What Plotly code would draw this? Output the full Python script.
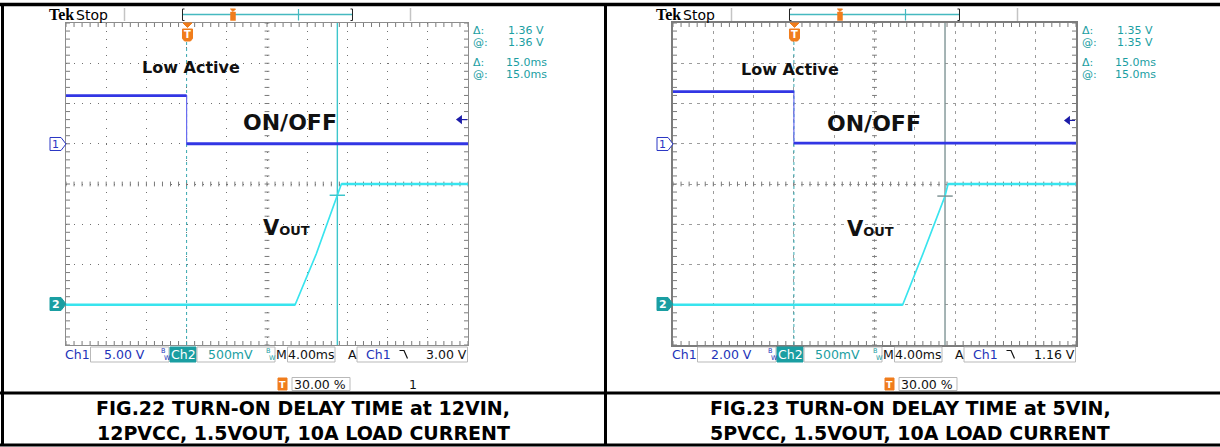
import numpy as np
import plotly.graph_objects as go

W, H = 1220, 447
FONT = "DejaVu Sans"

# ---- timebase shared by both captures ----
TIME_PER_DIV_MS = 4.0
TRIGGER_POS_PCT = 30.0
H_DIVS, V_DIVS = 10, 8
T_START = -TRIGGER_POS_PCT / 100.0 * H_DIVS * TIME_PER_DIV_MS
T_END = T_START + H_DIVS * TIME_PER_DIV_MS

# ---- FIG.22 : 12VIN, 12PVCC ----
fig22_onoff_t_ms = [-12.0, 0.0, 0.0, 28.0]
fig22_onoff_v = [5.97, 5.97, 0.0, 0.0]
fig22_vout_t_ms = [-12.0, 10.8, 12.9, 15.0, 15.4, 28.0]
fig22_vout_v = [0.0, 0.0, 0.63, 1.36, 1.50, 1.50]
fig22_cursor_t_ms = 15.0
fig22_cursor_v = 1.36
fig22_ch1_v_per_div = 5.0
fig22_trig_level_v = 3.00

# ---- FIG.23 : 5VIN, 5PVCC ----
fig23_onoff_t_ms = [-12.0, 0.0, 0.0, 28.0]
fig23_onoff_v = [2.59, 2.59, 0.03, 0.03]
fig23_vout_t_ms = [-12.0, 10.8, 12.8, 15.0, 15.3, 28.0]
fig23_vout_v = [0.0, 0.0, 0.63, 1.35, 1.50, 1.50]
fig23_cursor_t_ms = 15.0
fig23_cursor_v = 1.35
fig23_ch1_v_per_div = 2.0
fig23_trig_level_v = 1.16

CH2_V_PER_DIV = 0.5
CH1_OFFSET_DIV = 1.0
CH2_OFFSET_DIV = -3.0

captions = [
    ("FIG.22 TURN-ON DELAY TIME at 12VIN,", "12PVCC, 1.5VOUT, 10A LOAD CURRENT"),
    ("FIG.23 TURN-ON DELAY TIME at 5VIN,", "5PVCC, 1.5VOUT, 10A LOAD CURRENT"),
]

# ---- colours ----
C_CH1 = "#3236e4"
C_CH1_EDGE = "#6a6cf0"
C_CH1_TXT = "#2233b8"
C_CH2 = "#38e4ee"
C_TEAL = "#1a9ea2"
C_ORANGE = "#f07d1c"


def fx(x):
    return x / W


def fy(y):
    return 1 - y / H


shapes = []
anns = []


def line(x0, y0, x1, y1, color, width=1, dash="solid"):
    shapes.append(dict(type="line", xref="paper", yref="paper",
                       x0=fx(x0), y0=fy(y0), x1=fx(x1), y1=fy(y1),
                       line=dict(color=color, width=width, dash=dash)))


def rect(x0, y0, x1, y1, fill="white", edge="#b9b9b9", width=1):
    shapes.append(dict(type="rect", xref="paper", yref="paper",
                       x0=fx(x0), y0=fy(y0), x1=fx(x1), y1=fy(y1),
                       fillcolor=fill, line=dict(color=edge, width=width)))


def poly(pts, fill, edge=None, width=1, closed=True):
    d = "M" + " L".join(f"{fx(x):.6f},{fy(y):.6f}" for x, y in pts)
    if closed:
        d += " Z"
    shapes.append(dict(type="path", xref="paper", yref="paper", path=d,
                       fillcolor=fill if closed else None,
                       line=dict(color=edge or fill, width=width)))


def text(x, y, s, size=12.5, color="#000", anchor="left", family=FONT, bold=False):
    if bold:
        s = f"<b>{s}</b>"
    anns.append(dict(x=fx(x), y=fy(y), xref="paper", yref="paper", text=s,
                     showarrow=False, xanchor=anchor, yanchor="middle",
                     borderpad=0, borderwidth=0,
                     font=dict(family=family, size=size, color=color)))


def level_segments(t, v):
    """Steady-level pieces of a waveform (consecutive samples at equal value)."""
    xs, ys = [], []
    for k in range(1, len(t)):
        if v[k] == v[k - 1]:
            xs += [t[k - 1], t[k], None]
            ys += [v[k - 1], v[k], None]
    return xs, ys


fig = go.Figure()

panels = [
    dict(dx=0, gx0=66, gx1=468, xa="x", ya="y", y1a="y3", y2a="y4",
         on_t=fig22_onoff_t_ms, on_v=fig22_onoff_v,
         vo_t=fig22_vout_t_ms, vo_v=fig22_vout_v,
         cur_t=fig22_cursor_t_ms, cur_v=fig22_cursor_v,
         ch1_vdiv=fig22_ch1_v_per_div, trig=fig22_trig_level_v,
         cursor_color="#3cc6cc", grid_color="#707070", grid_dash="1px,7.04px",
         border_color="#8c8c8c", border_w=1,
         low=(191, 68), onoff=(290, 123), vout=(263, 228), page="1"),
    dict(dx=607, gx0=673, gx1=1076, xa="x2", ya="y2", y1a="y5", y2a="y6",
         on_t=fig23_onoff_t_ms, on_v=fig23_onoff_v,
         vo_t=fig23_vout_t_ms, vo_v=fig23_vout_v,
         cur_t=fig23_cursor_t_ms, cur_v=fig23_cursor_v,
         ch1_vdiv=fig23_ch1_v_per_div, trig=fig23_trig_level_v,
         cursor_color="#7f9495", grid_color="#9c9c9c", grid_dash="3px,5px",
         border_color="#7c7c7c", border_w=2,
         low=(790, 69), onoff=(874, 124), vout=(847, 229), page=None),
]

GY0, GY1 = 23, 345
layout_axes = {}

for i, p in enumerate(panels):
    dx = p["dx"]
    xa, ya = p["xa"], p["ya"]
    xname = "xaxis" + ("" if xa == "x" else xa[1:])
    yname = "yaxis" + ("" if ya == "y" else ya[1:])
    layout_axes[xname] = dict(
        domain=[fx(p["gx0"]), fx(p["gx1"])], range=[T_START, T_END], anchor=ya,
        showgrid=True, gridcolor=p["grid_color"], griddash=p["grid_dash"], gridwidth=1,
        tick0=T_START, dtick=TIME_PER_DIV_MS, showticklabels=False, ticks="",
        zeroline=False, showline=True, mirror=True,
        linecolor=p["border_color"], linewidth=p["border_w"], fixedrange=True)
    layout_axes[yname] = dict(
        domain=[fy(GY1), fy(GY0)], range=[-V_DIVS / 2, V_DIVS / 2], anchor=xa,
        showgrid=True, gridcolor=p["grid_color"], griddash=p["grid_dash"], gridwidth=1,
        tick0=-V_DIVS / 2, dtick=1, showticklabels=False, ticks="",
        zeroline=False, showline=True, mirror=True,
        linecolor=p["border_color"], linewidth=p["border_w"], fixedrange=True)
    # channel axes in volts, overlaid on the graticule
    c1 = p["ch1_vdiv"]
    layout_axes["yaxis" + p["y1a"][1:]] = dict(
        overlaying=ya, anchor=xa, visible=False, fixedrange=True,
        range=[(-V_DIVS / 2 - CH1_OFFSET_DIV) * c1, (V_DIVS / 2 - CH1_OFFSET_DIV) * c1])
    layout_axes["yaxis" + p["y2a"][1:]] = dict(
        overlaying=ya, anchor=xa, visible=False, fixedrange=True,
        range=[(-V_DIVS / 2 - CH2_OFFSET_DIV) * CH2_V_PER_DIV,
               (V_DIVS / 2 - CH2_OFFSET_DIV) * CH2_V_PER_DIV])

    # graticule minor ticks (every 0.2 div) on border and centre lines
    tx, ty = [], []
    sub_t = TIME_PER_DIV_MS / 5
    tlen_t = 4 / ((p["gx1"] - p["gx0"]) / H_DIVS) * TIME_PER_DIV_MS
    tlen_v = 4 / ((GY1 - GY0) / V_DIVS)
    t_mid = (T_START + T_END) / 2
    for t in np.arange(T_START, T_END + 1e-9, sub_t):
        tx += [t, t, None, t, t, None, t, t, None]
        ty += [V_DIVS / 2, V_DIVS / 2 - tlen_v, None,
               -V_DIVS / 2, -V_DIVS / 2 + tlen_v, None,
               -0.6 * tlen_v, 0.6 * tlen_v, None]
    for v in np.arange(-V_DIVS / 2, V_DIVS / 2 + 1e-9, 0.2):
        tx += [T_START, T_START + tlen_t, None, T_END, T_END - tlen_t, None,
               t_mid - 0.6 * tlen_t, t_mid + 0.6 * tlen_t, None]
        ty += [v, v, None, v, v, None, v, v, None]
    fig.add_trace(go.Scatter(x=tx, y=ty, xaxis=xa, yaxis=ya, mode="lines",
                             line=dict(color="#7a7a7a", width=1),
                             hoverinfo="skip", showlegend=False))

    # trigger position (t = 0), dashed
    fig.add_trace(go.Scatter(x=[0, 0], y=[-V_DIVS / 2, V_DIVS / 2 - 0.45], xaxis=xa, yaxis=ya,
                             mode="lines", line=dict(color="#3aaab2", width=1, dash="3px,3px"),
                             hoverinfo="skip", showlegend=False))

    # waveforms: thin full trace, heavier on the steady levels
    fig.add_trace(go.Scatter(x=p["vo_t"], y=p["vo_v"], xaxis=xa, yaxis=p["y2a"], mode="lines",
                             line=dict(color=C_CH2, width=1.7), hoverinfo="skip",
                             showlegend=False))
    sx, sy = level_segments(p["vo_t"], p["vo_v"])
    fig.add_trace(go.Scatter(x=sx, y=sy, xaxis=xa, yaxis=p["y2a"], mode="lines",
                             line=dict(color=C_CH2, width=2.6), hoverinfo="skip",
                             showlegend=False))
    fig.add_trace(go.Scatter(x=p["on_t"], y=p["on_v"], xaxis=xa, yaxis=p["y1a"], mode="lines",
                             line=dict(color=C_CH1_EDGE, width=1.2), hoverinfo="skip",
                             showlegend=False))
    sx, sy = level_segments(p["on_t"], p["on_v"])
    fig.add_trace(go.Scatter(x=sx, y=sy, xaxis=xa, yaxis=p["y1a"], mode="lines",
                             line=dict(color=C_CH1, width=2.8), hoverinfo="skip",
                             showlegend=False))

    # time cursor and its crossing mark
    fig.add_trace(go.Scatter(x=[p["cur_t"], p["cur_t"]], y=[-V_DIVS / 2, V_DIVS / 2],
                             xaxis=xa, yaxis=ya, mode="lines",
                             line=dict(color=p["cursor_color"], width=1.4),
                             hoverinfo="skip", showlegend=False))
    fig.add_trace(go.Scatter(x=[p["cur_t"]], y=[p["cur_v"]], xaxis=xa, yaxis=p["y2a"],
                             mode="markers",
                             marker=dict(symbol="line-ew", size=11,
                                         line=dict(color=p["cursor_color"], width=1.5)),
                             hoverinfo="skip", showlegend=False))

    # ch1 trigger level arrow on the right edge
    fig.add_trace(go.Scatter(x=[T_END - 0.65, T_END - 0.1], y=[p["trig"], p["trig"]],
                             xaxis=xa, yaxis=p["y1a"], mode="lines",
                             line=dict(color="#1c1ca8", width=1.2),
                             hoverinfo="skip", showlegend=False))
    fig.add_trace(go.Scatter(x=[T_END - 0.8], y=[p["trig"]], xaxis=xa, yaxis=p["y1a"],
                             mode="markers",
                             marker=dict(symbol="triangle-left", size=8, color="#1c1ca8"),
                             hoverinfo="skip", showlegend=False))

    # ---- header bar ----
    text(49 + dx, 14, "Tek", size=16, family="Liberation Serif", bold=True)
    text(76 + dx, 14.5, "Stop", size=14)
    line(124.5 + dx, 8, 124.5 + dx, 21, "#c4c4c4", 1.5)
    line(410.5 + dx, 8, 410.5 + dx, 21, "#c4c4c4", 1.5)
    line(183 + dx, 14.5, 352 + dx, 14.5, "#45b9c0", 1.5)
    poly([(184.5 + dx, 9), (182.5 + dx, 9), (182.5 + dx, 20.5), (184.5 + dx, 20.5)],
         None, "#222", 1, closed=False)
    poly([(350.5 + dx, 9), (352.5 + dx, 9), (352.5 + dx, 20.5), (350.5 + dx, 20.5)],
         None, "#222", 1, closed=False)
    line(298.5 + dx, 9, 298.5 + dx, 20.5, "#45b9c0", 1.2)
    poly([(230.5 + dx, 9), (235.5 + dx, 9), (233 + dx, 11.5)], C_ORANGE)
    rect(230.5 + dx, 12, 235.5 + dx, 20.5, fill=C_ORANGE, edge=C_ORANGE, width=0.5)

    # trigger position marker at graticule top
    tx0 = 187.5 + dx
    poly([(tx0 - 4.5, 23), (tx0 + 4.5, 23), (tx0, 27.5)], C_ORANGE)
    poly([(tx0 - 5, 29), (tx0 + 5, 29), (tx0 + 5, 38.5), (tx0 + 3, 41), (tx0 - 3, 41),
          (tx0 - 5, 38.5)], C_ORANGE)
    text(tx0, 35, "T", size=10, color="white", anchor="center", bold=True)

    # ground markers
    poly([(50 + dx, 137.5), (61 + dx, 137.5), (66 + dx, 144), (61 + dx, 150.5),
          (50 + dx, 150.5)], "white", "#2a36c4", 1)
    text(55.5 + dx, 144.5, "1", size=11, color="#2a36c4", anchor="center")
    poly([(50 + dx, 297.5), (61 + dx, 297.5), (66 + dx, 304), (61 + dx, 310.5),
          (50 + dx, 310.5)], C_TEAL, C_TEAL, 1)
    text(55.5 + dx, 304.5, "2", size=11, color="white", anchor="center", bold=True)

    # cursor readouts
    rx = dx + (1.5 if dx else 0)
    vstr = f"{p['cur_v']:.2f} V"
    tstr = f"{p['cur_t']:.1f}ms"
    for yy, lab, val, vx in [(30.5, "Δ:", vstr, 508), (42.5, "@:", vstr, 508),
                             (62.5, "Δ:", tstr, 506), (74.5, "@:", tstr, 506)]:
        text(473 + rx, yy, lab, size=11, color=C_TEAL)
        text(vx + rx, yy, val, size=11, color=C_TEAL)

    # bottom readout row
    ry = 354.5
    text(65 + dx, ry, "Ch1", size=12.5, color=C_CH1_TXT)
    rect(90.5 + dx, 347, 169 + dx, 362)
    text(124 + dx, ry, f"{p['ch1_vdiv']:.2f} V", size=12.5, color=C_CH1_TXT, anchor="center")
    text(161 + dx, 350.5, "B", size=6.5, color=C_CH1_TXT)
    text(164 + dx, 357.5, "W", size=6.5, color=C_CH1_TXT)
    rect(170 + dx, 347, 196 + dx, 362, fill=C_TEAL, edge=C_TEAL)
    text(183 + dx, ry, "Ch2", size=12.5, color="white", anchor="center")
    rect(197 + dx, 347, 275 + dx, 362)
    text(230.5 + dx, ry, f"{int(CH2_V_PER_DIV * 1000)}mV", size=12.5, color=C_TEAL,
         anchor="center")
    text(266 + dx, 350.5, "B", size=6.5, color=C_TEAL)
    text(269 + dx, 357.5, "W", size=6.5, color=C_TEAL)
    text(281.5 + dx, ry, "M", size=12.5, color="#111", anchor="center")
    rect(287.5 + dx, 347, 335 + dx, 362)
    text(311 + dx, ry, f"{TIME_PER_DIV_MS:.2f}ms", size=12.5, color="#111", anchor="center")
    text(352 + dx, ry, "A", size=12.5, color="#111", anchor="center")
    rect(357 + dx, 347, p["gx1"] - 0.5, 362)
    text(378.5 + dx, ry, "Ch1", size=12.5, color=C_CH1_TXT, anchor="center")
    poly([(399.5 + dx, 350.5), (404 + dx, 350.5), (407.5 + dx, 358.5)], None, "#111", 1.2,
         closed=False)
    text(p["gx1"] - 1.5, ry, f"{p['trig']:.2f} V", size=12.5, color="#111", anchor="right")

    # trigger position readout
    rect(278 + dx, 378, 287 + dx, 390, fill=C_ORANGE, edge=C_ORANGE)
    text(282.5 + dx, 384.5, "T", size=9.5, color="white", anchor="center", bold=True)
    rect(292 + dx, 377.5, 350 + dx, 390.5)
    text(294 + dx, 384.5, f"{TRIGGER_POS_PCT:.2f} %", size=12.5, color="#111")
    if p["page"]:
        text(413 + dx, 384.5, p["page"], size=12.5, color="#111", anchor="center")

    # waveform labels
    text(p["low"][0], p["low"][1], "Low Active", size=16, color="#111", anchor="center",
         bold=True)
    text(p["onoff"][0], p["onoff"][1], "ON/OFF", size=22, color="#111", anchor="center",
         bold=True)
    text(p["vout"][0], p["vout"][1],
         "<b>V<span style='font-size:13px'>OUT</span></b>", size=21, color="#111")

    # caption
    cx = 303 if i == 0 else 910
    text(cx, 408, captions[i][0], size=19, color="#000", anchor="center", bold=True)
    text(cx, 433, captions[i][1], size=19, color="#000", anchor="center", bold=True)

# page frame
line(0, 4.5, W, 4.5, "#000", 3.5)
line(2.5, 3, 2.5, 446, "#000", 3)
line(605.5, 3, 605.5, 446, "#000", 3)
line(0, 393, W, 393, "#000", 3)
line(0, 445, W, 445, "#000", 3)

fig.update_layout(
    width=W, height=H, margin=dict(l=0, r=0, t=0, b=0),
    paper_bgcolor="white", plot_bgcolor="white",
    showlegend=False, shapes=shapes, annotations=anns,
    **layout_axes,
)

fig.write_html("out.html")
